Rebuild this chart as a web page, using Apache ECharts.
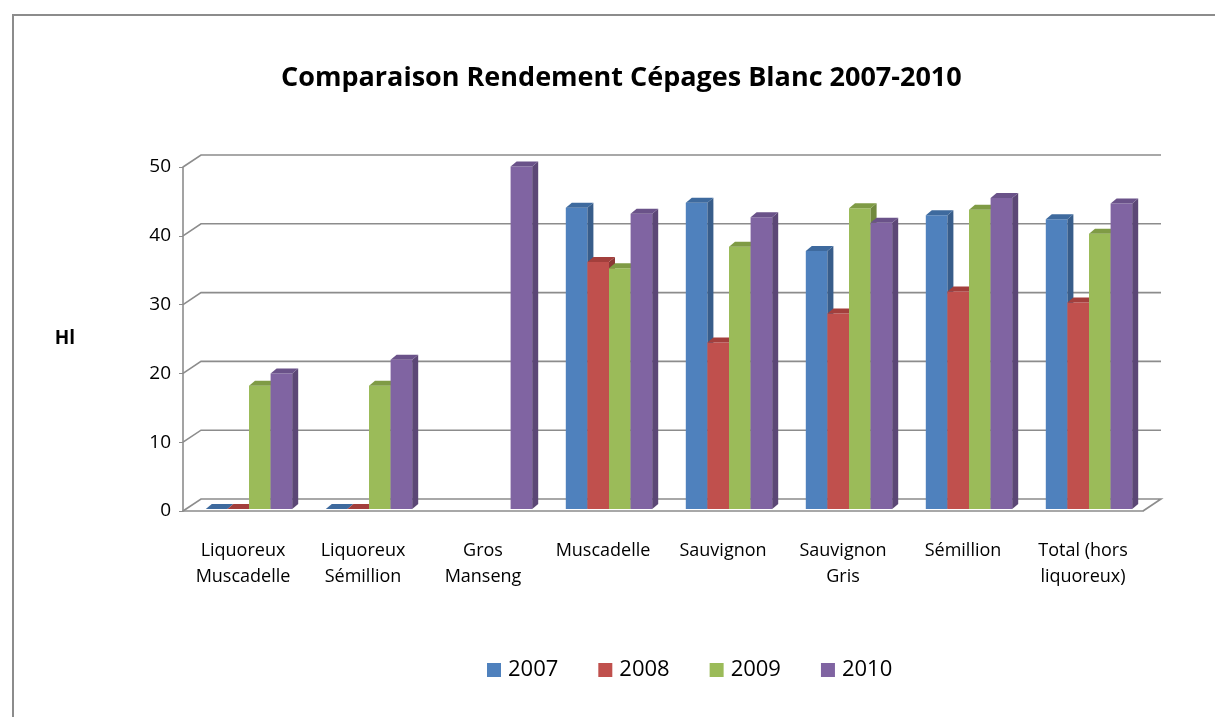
<!DOCTYPE html>
<html>
<head>
<meta charset="utf-8">
<title>Comparaison Rendement Cépages Blanc 2007-2010</title>
<script src="https://cdn.jsdelivr.net/npm/echarts@6/dist/echarts.min.js"></script>
<style>
  html, body { margin: 0; padding: 0; background: #fff; }
  #chart { width: 1215px; height: 717px; }
</style>
</head>
<body>
<div id="chart"></div>
<script>
// données (Hl)
var categories = ['Liquoreux\nMuscadelle', 'Liquoreux\nSémillion', 'Gros\nManseng', 'Muscadelle',
                  'Sauvignon', 'Sauvignon\nGris', 'Sémillion', 'Total (hors\nliquoreux)'];
var years = ['2007', '2008', '2009', '2010'];
var v2007 = [0, 0, null, 43.8, 44.5, 37.5, 42.7, 42.1];
var v2008 = [0, 0, null, 35.9, 24.2, 28.4, 31.6, 30.0];
var v2009 = [17.9, 17.9, null, 35.0, 38.1, 43.7, 43.5, 40.0];
var v2010 = [19.7, 21.7, 49.8, 42.9, 42.4, 41.6, 45.2, 44.4];
var yTicks = [0, 10, 20, 30, 40, 50];

var values = [v2007, v2008, v2009, v2010];
var colors = ['#4F81BD', '#C0504D', '#9BBB59', '#8064A2'];
var sideColors = ['#385D8A', '#8C3836', '#71893F', '#5C4776'];
var topColors = ['#3E6A9E', '#A33F3C', '#7F9B45', '#6A5289'];

var DX = 6, DY = 5;       // profondeur des barres
var WX = 18, WY = 12;     // profondeur du mur du fond

var myChart = echarts.init(document.getElementById('chart'));

function barRenderer(k) {
  return function (params, api) {
    var i = api.value(0), v = api.value(1);
    if (isNaN(v)) return null;
    var catW = api.size([1, 0])[0];
    var bw = catW * 0.18;
    var c = api.coord([i, 0]);
    var t = api.coord([i, v]);
    var x = c[0] - 2 * bw + 6 + k * bw;
    var yb = c[1] - 2, yt = t[1] - 2;
    return {
      type: 'group',
      children: [
        { type: 'rect', shape: { x: x, y: yt, width: bw, height: yb - yt },
          style: { fill: colors[k] } },
        { type: 'polygon', shape: { points: [[x + bw, yt], [x + bw + DX, yt - DY], [x + bw + DX, yb - DY], [x + bw, yb]] },
          style: { fill: sideColors[k] } },
        { type: 'polygon', shape: { points: [[x, yt], [x + DX, yt - DY], [x + bw + DX, yt - DY], [x + bw, yt]] },
          style: { fill: topColors[k] } }
      ]
    };
  };
}

function gridRenderer(params, api) {
  var cs = params.coordSys;
  var v = api.value(1);
  var y = api.coord([0, v])[1];
  var pts = [[cs.x, y], [cs.x + WX, y - WY], [cs.x + cs.width + WX, y - WY]];
  if (v === 0) pts.push([cs.x + cs.width, y]);
  return {
    type: 'polyline',
    shape: { points: pts },
    style: { stroke: '#8C8C8C', lineWidth: 1.6, fill: null }
  };
}

var series = [{
  name: 'grille',
  type: 'custom',
  renderItem: gridRenderer,
  data: yTicks.map(function (t) { return [0, t]; }),
  silent: true,
  z: 1
}];
years.forEach(function (yr, k) {
  series.push({
    name: yr,
    type: 'custom',
    renderItem: barRenderer(k),
    itemStyle: { color: colors[k] },
    data: values[k].map(function (v, i) { return [i, v == null ? '-' : v]; }),
    z: 2 + k
  });
});

var option = {
  animation: false,
  backgroundColor: '#fff',
  textStyle: { fontFamily: 'Open Sans' },
  title: {
    text: 'Comparaison Rendement Cépages Blanc 2007-2010',
    left: 276,
    top: 60,
    textStyle: { fontSize: 27, fontWeight: 'bold', color: '#000', fontFamily: 'Open Sans' }
  },
  legend: {
    data: years,
    top: 654,
    left: 482,
    icon: 'rect',
    itemWidth: 14,
    itemHeight: 14,
    itemGap: 40,
    textStyle: { fontSize: 22, color: '#000', padding: [0, 0, 0, 2] }
  },
  grid: { left: 183, right: 72, top: 167, bottom: 206 },
  xAxis: {
    type: 'category',
    data: categories,
    axisLine: { lineStyle: { color: '#8C8C8C', width: 1.6 } },
    axisTick: { length: 6, lineStyle: { color: '#8C8C8C', width: 1.6 } },
    axisLabel: { fontSize: 18, lineHeight: 26, color: '#000', margin: 27, interval: 0 }
  },
  yAxis: {
    type: 'value',
    min: 0,
    max: 50,
    interval: 10,
    name: 'Hl',
    nameLocation: 'middle',
    nameRotate: 0,
    nameGap: 108,
    nameTextStyle: { fontSize: 19, fontWeight: 'bold', color: '#000' },
    axisLine: { show: true, lineStyle: { color: '#8C8C8C', width: 1.6 } },
    axisTick: { show: true, length: 4, lineStyle: { color: '#8C8C8C' } },
    axisLabel: { fontSize: 19, color: '#000', margin: 12 },
    splitLine: { show: false }
  },
  graphic: [{
    type: 'rect',
    shape: { x: 13, y: 15, width: 1400, height: 900 },
    style: { fill: null, stroke: '#8C8C8C', lineWidth: 2 },
    silent: true
  }],
  series: series
};

myChart.setOption(option);
</script>
</body>
</html>
